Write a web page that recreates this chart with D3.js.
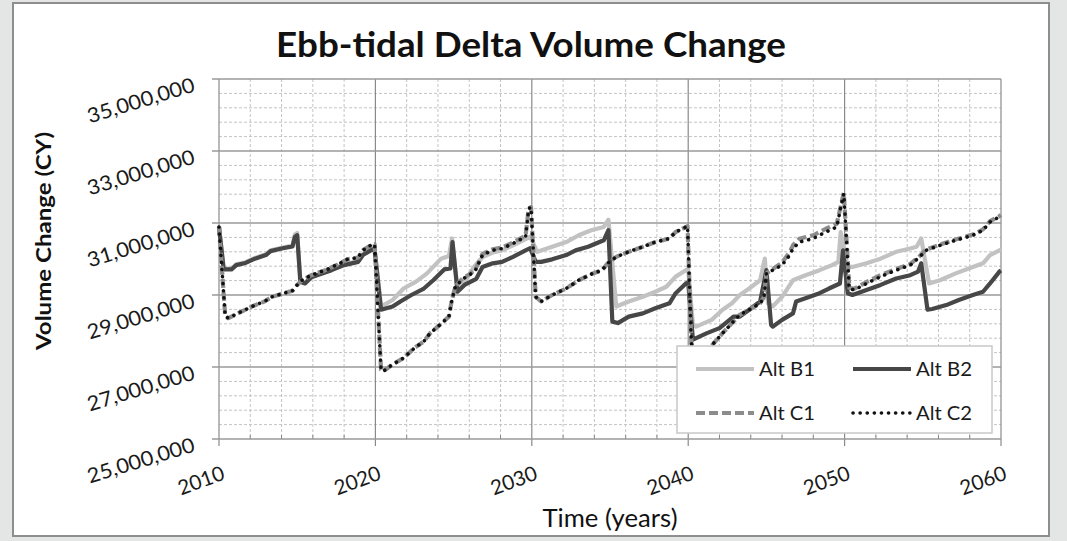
<!DOCTYPE html>
<html>
<head>
<meta charset="utf-8">
<script src="https://cdn.jsdelivr.net/npm/d3@7"></script>
<style>
  html, body { margin: 0; padding: 0; background: #e5e6e6; }
  svg { display: block; }
</style>
</head>
<body>
<svg id="chart" width="1067" height="541"></svg>
<script>
// ---- Chart text ----
const chartTitle = "Ebb-tidal Delta Volume Change";
const xAxisTitle = "Time (years)";
const yAxisTitle = "Volume Change (CY)";

// ---- Axis ticks ----
const xTickValues = [2010, 2020, 2030, 2040, 2050, 2060];
const yTickValues = [25000000, 27000000, 29000000, 31000000, 33000000, 35000000];

// ---- Series (year, volume in millions of CY) ----
const seriesNames = ["Alt B1", "Alt B2", "Alt C1", "Alt C2"];

const altB1 = [
  [2010.0,30.89],[2010.3,29.73],[2010.8,29.73],[2011.1,29.85],[2011.7,29.91],[2012.3,30.03],
  [2013.0,30.13],[2013.3,30.24],[2014.0,30.31],[2014.7,30.37],[2014.85,30.68],[2015.0,30.72],
  [2015.2,29.39],[2015.5,29.34],[2015.9,29.51],[2016.5,29.60],[2017.2,29.71],[2018.0,29.85],
  [2018.9,29.94],[2019.2,30.13],[2019.7,30.26],[2019.94,30.31],[2020.36,28.68],[2021.1,28.86],
  [2021.8,29.18],[2022.6,29.37],[2023.3,29.60],[2024.2,30.01],[2024.7,30.08],[2024.9,30.57],
  [2025.25,29.15],[2025.7,29.35],[2026.3,29.78],[2026.85,30.05],[2027.5,30.18],[2028.1,30.24],
  [2028.8,30.38],[2029.6,30.55],[2029.9,30.62],[2030.35,30.20],[2031.3,30.34],[2032.2,30.47],
  [2033.0,30.66],[2033.8,30.80],[2034.6,30.89],[2034.9,31.09],[2035.4,28.68],[2036.2,28.82],
  [2037.1,28.95],[2037.9,29.09],[2038.6,29.23],[2039.2,29.51],[2039.85,29.69],[2040.0,29.72],
  [2040.3,28.17],[2040.5,28.12],[2041.5,28.31],[2042.2,28.59],[2042.8,28.77],[2043.3,29.00],
  [2043.9,29.18],[2044.6,29.41],[2044.9,30.01],[2045.1,28.77],[2045.4,28.68],[2046.0,28.95],
  [2046.7,29.41],[2047.5,29.55],[2048.4,29.69],[2049.2,29.83],[2049.6,29.92],[2049.75,30.75],
  [2050.2,29.78],[2050.5,29.78],[2051.4,29.88],[2052.3,30.01],[2053.3,30.20],[2054.2,30.29],
  [2054.6,30.34],[2054.9,30.57],[2055.4,29.32],[2056.1,29.41],[2057.1,29.60],[2058.2,29.78],
  [2058.85,29.88],[2059.3,30.11],[2059.9,30.24],[2060.0,30.26]
];

const altB2 = [
  [2010.0,30.89],[2010.3,29.71],[2010.8,29.71],[2011.1,29.83],[2011.7,29.89],[2012.3,30.01],
  [2013.0,30.11],[2013.3,30.22],[2014.0,30.29],[2014.7,30.35],[2014.85,30.61],[2015.0,30.66],
  [2015.2,29.37],[2015.5,29.32],[2015.9,29.49],[2016.5,29.58],[2017.2,29.69],[2018.0,29.83],
  [2018.9,29.92],[2019.2,30.11],[2019.7,30.24],[2019.94,30.29],[2020.36,28.59],[2021.1,28.68],
  [2021.6,28.82],[2022.3,29.00],[2023.1,29.18],[2023.7,29.41],[2024.4,29.71],[2024.8,29.74],
  [2024.93,30.47],[2025.25,29.09],[2025.7,29.28],[2026.45,29.45],[2026.85,29.78],[2027.5,29.88],
  [2028.1,29.92],[2028.8,30.06],[2029.6,30.24],[2029.9,30.30],[2030.25,29.92],[2030.6,29.92],
  [2031.3,29.99],[2032.2,30.11],[2032.8,30.24],[2033.6,30.34],[2034.6,30.52],[2034.9,30.80],
  [2035.15,28.26],[2035.5,28.22],[2036.2,28.40],[2037.1,28.49],[2037.9,28.63],[2038.8,28.77],
  [2039.2,29.05],[2039.85,29.32],[2040.0,29.35],[2040.3,27.76],[2041.2,27.94],[2042.0,28.08],
  [2042.9,28.40],[2043.3,28.40],[2043.9,28.59],[2044.6,28.82],[2045.0,29.69],[2045.3,28.17],
  [2045.4,28.12],[2046.0,28.31],[2046.7,28.49],[2046.9,28.82],[2047.5,28.91],[2048.4,29.05],
  [2049.0,29.18],[2049.7,29.32],[2049.9,30.24],[2050.2,29.05],[2050.5,29.00],[2051.4,29.14],
  [2052.3,29.28],[2053.3,29.46],[2054.2,29.55],[2054.7,29.65],[2054.9,29.88],[2055.3,28.59],
  [2055.6,28.61],[2056.5,28.72],[2057.3,28.86],[2058.2,29.00],[2058.85,29.09],[2059.3,29.32],
  [2059.9,29.65],[2060.0,29.68]
];

const altC1 = [
  [2010.0,30.89],[2010.4,28.40],[2010.6,28.36],[2011.2,28.49],[2012.1,28.68],[2012.9,28.82],
  [2013.4,28.95],[2014.0,29.03],[2014.7,29.12],[2015.0,29.28],[2015.3,29.41],[2015.9,29.55],
  [2016.8,29.69],[2017.6,29.85],[2018.2,29.99],[2018.9,30.04],[2019.2,30.24],[2019.7,30.38],
  [2019.95,30.41],[2020.36,26.93],[2020.5,26.88],[2021.1,27.07],[2021.8,27.25],[2022.5,27.53],
  [2023.1,27.71],[2023.5,27.94],[2024.2,28.20],[2024.7,28.40],[2024.85,28.77],[2025.1,29.23],
  [2025.6,29.47],[2026.0,29.57],[2026.4,29.72],[2026.85,30.14],[2027.5,30.27],[2028.1,30.32],
  [2028.8,30.46],[2029.4,30.60],[2029.6,30.64],[2029.8,31.40],[2029.95,31.44],[2030.25,28.95],
  [2030.6,28.82],[2031.3,29.00],[2032.2,29.18],[2033.0,29.41],[2033.9,29.60],[2034.5,29.69],
  [2034.85,29.88],[2035.4,30.06],[2036.2,30.20],[2037.1,30.34],[2037.9,30.47],[2038.8,30.57],
  [2039.2,30.75],[2039.96,30.91],[2040.2,27.66],[2040.5,27.30],[2041.0,27.40],[2041.55,27.62],
  [2042.2,27.94],[2042.8,28.22],[2043.3,28.45],[2043.9,28.59],[2044.6,28.77],[2044.85,28.95],
  [2045.0,29.60],[2045.4,29.72],[2046.0,29.90],[2046.5,30.20],[2046.7,30.38],[2047.1,30.56],
  [2048.0,30.66],[2048.8,30.84],[2049.5,30.98],[2049.8,31.56],[2049.95,31.84],[2050.3,29.20],
  [2050.6,29.17],[2051.4,29.36],[2052.3,29.55],[2053.3,29.72],[2054.2,29.86],[2054.8,30.08],
  [2055.2,30.26],[2056.1,30.40],[2057.1,30.54],[2058.2,30.68],[2058.85,30.82],[2059.3,31.05],
  [2059.9,31.19],[2060.0,31.22]
];

const altC2 = [
  [2010.0,30.89],[2010.4,28.40],[2010.6,28.36],[2011.2,28.49],[2012.1,28.68],[2012.9,28.82],
  [2013.4,28.95],[2014.0,29.03],[2014.7,29.12],[2015.0,29.28],[2015.3,29.41],[2015.9,29.55],
  [2016.8,29.69],[2017.6,29.85],[2018.2,29.99],[2018.9,30.04],[2019.2,30.24],[2019.7,30.38],
  [2019.95,30.41],[2020.36,26.93],[2020.5,26.88],[2021.1,27.07],[2021.8,27.25],[2022.5,27.53],
  [2023.1,27.71],[2023.5,27.94],[2024.2,28.20],[2024.7,28.40],[2024.85,28.77],[2025.1,29.23],
  [2025.6,29.45],[2026.0,29.55],[2026.4,29.69],[2026.85,30.11],[2027.5,30.24],[2028.1,30.29],
  [2028.8,30.43],[2029.4,30.57],[2029.6,30.61],[2029.8,31.40],[2029.95,31.44],[2030.25,28.95],
  [2030.6,28.82],[2031.3,29.00],[2032.2,29.18],[2033.0,29.41],[2033.9,29.60],[2034.5,29.69],
  [2034.85,29.88],[2035.4,30.06],[2036.2,30.20],[2037.1,30.34],[2037.9,30.47],[2038.8,30.57],
  [2039.2,30.75],[2039.96,30.91],[2040.2,27.66],[2040.5,27.30],[2041.0,27.40],[2041.55,27.62],
  [2042.2,27.94],[2042.8,28.22],[2043.3,28.45],[2043.9,28.59],[2044.6,28.77],[2044.85,28.95],
  [2045.0,29.60],[2045.4,29.69],[2046.0,29.83],[2046.5,30.11],[2046.7,30.29],[2047.1,30.47],
  [2048.0,30.57],[2048.8,30.75],[2049.5,30.89],[2049.8,31.53],[2049.95,31.81],[2050.3,29.18],
  [2050.6,29.14],[2051.4,29.32],[2052.3,29.51],[2053.3,29.69],[2054.2,29.83],[2054.8,30.06],
  [2055.2,30.24],[2056.1,30.38],[2057.1,30.52],[2058.2,30.66],[2058.85,30.80],[2059.3,31.03],
  [2059.9,31.17],[2060.0,31.20]
];

// ---- Layout ----
const W = 1067, H = 541;
const plot = { left: 219, right: 1001, top: 79, bottom: 439 };
const FONT = "Lato, 'Open Sans', sans-serif";

const svg = d3.select("#chart");

const x = d3.scaleLinear().domain([2010, 2060]).range([plot.left, plot.right]);
const y = d3.scaleLinear().domain([25, 35]).range([plot.bottom, plot.top]);

// outer backdrop and white chart panel
svg.append("rect").attr("width", W).attr("height", H).attr("fill", "#e4e5e5");
svg.append("rect")
  .attr("x", 13).attr("y", 3).attr("width", 1036).attr("height", 533)
  .attr("fill", "#ffffff").attr("stroke", "#8e8e8e").attr("stroke-width", 2);

// ---- Gridlines ----
const grid = svg.append("g");
const minorX = d3.range(2012, 2060, 2).filter(v => v % 10 !== 0);
const minorY = d3.range(25, 35.001, 0.4)
  .filter(v => Math.abs(((v - 25) / 2) - Math.round((v - 25) / 2)) > 0.05);

grid.selectAll(".minor-y").data(minorY)
  .join("line")
  .attr("x1", plot.left).attr("x2", plot.right)
  .attr("y1", d => y(d)).attr("y2", d => y(d))
  .attr("stroke", "#c4c4c4").attr("stroke-width", 1).attr("stroke-dasharray", "3,2");

grid.selectAll(".minor-x").data(minorX)
  .join("line")
  .attr("x1", d => x(d)).attr("x2", d => x(d))
  .attr("y1", plot.top).attr("y2", plot.bottom)
  .attr("stroke", "#c4c4c4").attr("stroke-width", 1).attr("stroke-dasharray", "3,2");

grid.selectAll(".major-x").data(xTickValues)
  .join("line")
  .attr("x1", d => x(d)).attr("x2", d => x(d))
  .attr("y1", plot.top).attr("y2", plot.bottom + 7)
  .attr("stroke", "#8a8a8a").attr("stroke-width", 1.2);

grid.selectAll(".major-y").data(yTickValues)
  .join("line")
  .attr("x1", plot.left - 7).attr("x2", plot.right)
  .attr("y1", d => y(d / 1e6)).attr("y2", d => y(d / 1e6))
  .attr("stroke", "#9a9a9a").attr("stroke-width", 1.6);

// small inside ticks on the time axis
grid.selectAll(".minor-tick").data(minorX)
  .join("line")
  .attr("x1", d => x(d)).attr("x2", d => x(d))
  .attr("y1", plot.bottom - 4).attr("y2", plot.bottom)
  .attr("stroke", "#8a8a8a").attr("stroke-width", 1);

// ---- Series lines ----
const styles = {
  "Alt B1": { color: "#c2c2c2", width: 4.2, dash: null, cap: "butt" },
  "Alt B2": { color: "#474747", width: 4.2, dash: null, cap: "butt" },
  "Alt C1": { color: "#8c8c8c", width: 4.2, dash: "9,4", cap: "butt" },
  "Alt C2": { color: "#111111", width: 3.6, dash: "0.1,7", cap: "round" }
};
const seriesData = { "Alt B1": altB1, "Alt B2": altB2, "Alt C1": altC1, "Alt C2": altC2 };

const line = d3.line().x(d => x(d[0])).y(d => y(d[1]));

const lines = svg.append("g");
seriesNames.forEach(name => {
  const s = styles[name];
  lines.append("path")
    .datum(seriesData[name])
    .attr("d", line)
    .attr("fill", "none")
    .attr("stroke", s.color)
    .attr("stroke-width", s.width)
    .attr("stroke-linejoin", "round")
    .attr("stroke-linecap", s.cap)
    .attr("stroke-dasharray", s.dash);
});

// ---- Axis labels ----
const fmt = d3.format(",");
svg.append("g").selectAll("text").data(yTickValues)
  .join("text")
  .attr("transform", d => `translate(196,${y(d / 1e6) + 12}) rotate(-17)`)
  .attr("text-anchor", "end")
  .attr("font-family", FONT).attr("font-size", 20.5).attr("fill", "#1a1a1a")
  .attr("textLength", 111).attr("lengthAdjust", "spacingAndGlyphs")
  .text(d => fmt(d));

svg.append("g").selectAll("text").data(xTickValues)
  .join("text")
  .attr("transform", d => `translate(${x(d) + 7},479) rotate(-20)`)
  .attr("text-anchor", "end")
  .attr("font-family", FONT).attr("font-size", 20.5).attr("fill", "#1a1a1a")
  .attr("textLength", 48).attr("lengthAdjust", "spacingAndGlyphs")
  .text(d => d);

// ---- Titles ----
svg.append("text")
  .attr("x", 531).attr("y", 57)
  .attr("text-anchor", "middle")
  .attr("font-family", FONT).attr("font-weight", 700).attr("font-size", 34)
  .attr("fill", "#111")
  .attr("textLength", 510).attr("lengthAdjust", "spacingAndGlyphs")
  .text(chartTitle);

svg.append("text")
  .attr("x", 610).attr("y", 527)
  .attr("text-anchor", "middle")
  .attr("font-family", FONT).attr("font-weight", 400).attr("font-size", 25)
  .attr("fill", "#111")
  .attr("textLength", 135).attr("lengthAdjust", "spacingAndGlyphs")
  .text(xAxisTitle);

svg.append("text")
  .attr("transform", "translate(51,241) rotate(-90)")
  .attr("text-anchor", "middle")
  .attr("font-family", FONT).attr("font-weight", 700).attr("font-size", 20.5)
  .attr("fill", "#111")
  .attr("textLength", 218).attr("lengthAdjust", "spacingAndGlyphs")
  .text(yAxisTitle);

// ---- Legend ----
const legend = svg.append("g");
legend.append("rect")
  .attr("x", 677).attr("y", 346).attr("width", 315).attr("height", 87)
  .attr("fill", "#fff").attr("stroke", "#c8c8c8").attr("stroke-width", 1.5);

const legendPos = {
  "Alt B1": [696, 369], "Alt B2": [853, 369],
  "Alt C1": [696, 413], "Alt C2": [853, 413]
};
seriesNames.forEach(name => {
  const s = styles[name];
  const [lx, ly] = legendPos[name];
  legend.append("line")
    .attr("x1", lx).attr("x2", lx + 58).attr("y1", ly).attr("y2", ly)
    .attr("stroke", s.color).attr("stroke-width", s.width)
    .attr("stroke-linecap", s.cap).attr("stroke-dasharray", s.dash);
  legend.append("text")
    .attr("x", lx + 63).attr("y", ly + 6.5)
    .attr("font-family", FONT).attr("font-size", 18.5).attr("fill", "#1a1a1a")
    .attr("textLength", 56).attr("lengthAdjust", "spacingAndGlyphs")
    .text(name);
});
</script>
</body>
</html>
